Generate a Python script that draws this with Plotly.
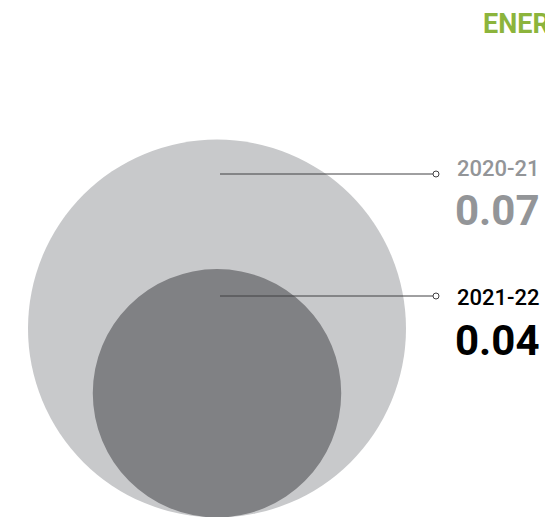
import plotly.graph_objects as go

# ---- data ----
periods = ["2020-21", "2021-22"]
values = [0.07, 0.04]
value_labels = ["0.07", "0.04"]
title_text = "ENERGY"

# ---- styles / layout ----
W, H = 545, 517
circle_colors = ["#c8c9cb", "#808184"]
label_colors = ["#939598", "#000000"]
line_color = "#414042"
title_color = "#8cb43c"

cx = 217            # shared circle centre x (px)
base_y = 517.5      # circles share a common bottom
r_max = 189         # radius of the largest value
v_max = max(values)

def radius(v):
    # power scale from value to radius
    return r_max * (v / v_max) ** 0.75

line_x0, line_x1 = 220, 436
line_y = [174, 296]
label_y = [168, 297]
value_y = [210, 340]
text_x = 455

fig = go.Figure()

shapes = []
for v, col in zip(values, circle_colors):
    r = radius(v)
    shapes.append(dict(type="circle", xref="x", yref="y",
                       x0=cx - r, x1=cx + r, y0=base_y - 2 * r, y1=base_y,
                       fillcolor=col, line=dict(width=0), layer="below"))
for ly in line_y:
    shapes.append(dict(type="line", xref="x", yref="y",
                       x0=line_x0, x1=line_x1 - 3, y0=ly, y1=ly,
                       line=dict(color=line_color, width=1)))

fig.add_trace(go.Scatter(
    x=[line_x1] * len(line_y), y=line_y, mode="markers",
    marker=dict(size=6, color="white", line=dict(color=line_color, width=1)),
    hoverinfo="skip", showlegend=False))

annotations = []
for p, vl, col, ly, vy in zip(periods, value_labels, label_colors, label_y, value_y):
    annotations.append(dict(x=text_x, y=ly, xref="x", yref="y", text=p,
                            showarrow=False, xanchor="left", yanchor="middle",
                            font=dict(family="Roboto", size=22, color=col,
                                      weight=500)))
    annotations.append(dict(x=text_x - 2, y=vy, xref="x", yref="y", text=vl,
                            showarrow=False, xanchor="left", yanchor="middle",
                            font=dict(family="Roboto", size=42,
                                      color=col, weight="bold")))
annotations.append(dict(x=481, y=24, xref="x", yref="y", text=title_text,
                        showarrow=False, xanchor="left", yanchor="middle",
                        font=dict(family="Roboto", size=27,
                                  color=title_color, weight="bold")))

fig.update_layout(
    width=W, height=H, margin=dict(l=0, r=0, t=0, b=0),
    paper_bgcolor="white", plot_bgcolor="white",
    xaxis=dict(range=[0, W], visible=False, fixedrange=True),
    yaxis=dict(range=[H, 0], visible=False, fixedrange=True),
    shapes=shapes, annotations=annotations, showlegend=False)

fig.write_html("out.html", post_script="document.body.style.margin='0';",
               config={"displayModeBar": False})
